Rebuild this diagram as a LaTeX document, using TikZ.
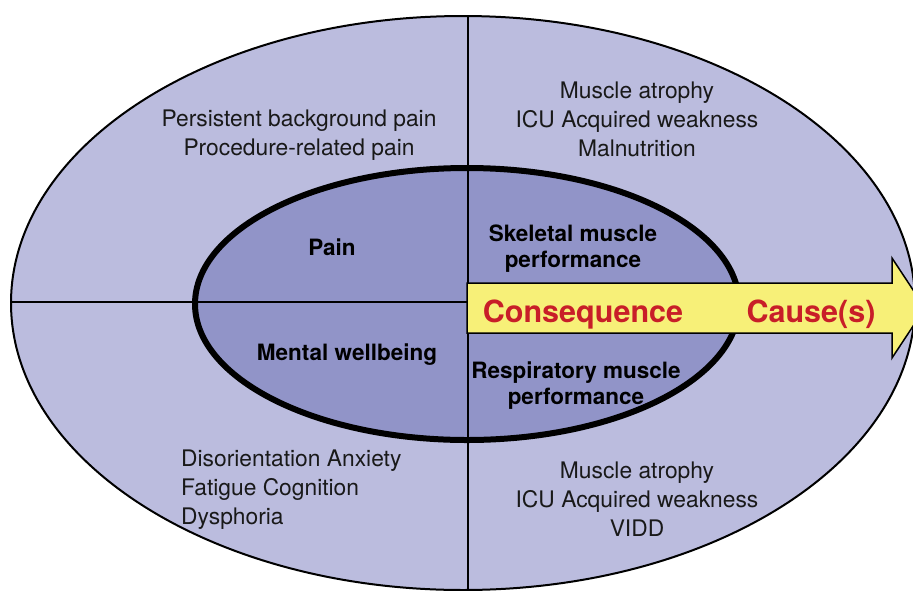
\documentclass[tikz,border=0pt]{standalone}
\usepackage{fontspec}
\setmainfont{TeX Gyre Heros}
\definecolor{outerfill}{RGB}{187,188,222}
\definecolor{innerfill}{RGB}{145,148,200}
\definecolor{arrowfill}{RGB}{247,240,120}
\definecolor{redtext}{RGB}{200,30,40}
\definecolor{darktext}{RGB}{25,25,25}
\tikzset{
  plain/.style={inner sep=0pt, align=center, text=darktext, font=\fontsize{22.8}{29}\selectfont},
  boldlabel/.style={inner sep=0pt, align=center, text=black, font=\fontsize{22.5}{26}\selectfont\bfseries},
  redlabel/.style={inner sep=0pt, text=redtext, font=\fontsize{30.5}{34}\selectfont\bfseries},
  divider/.style={draw=black, line width=2.2pt},
}
\begin{document}
\begin{tikzpicture}[x=1pt,y=-1pt]
\useasboundingbox (0,0) rectangle (913,590);
\begin{scope}
\clip (0,0) rectangle (913,590);
% outer ellipse
\filldraw[fill=outerfill, draw=black, line width=2pt] (463,303) ellipse [x radius=452, y radius=287];
% inner ellipse
\filldraw[fill=innerfill, draw=black, line width=6pt] (467,304) ellipse [x radius=272, y radius=136];
% dividers
\coordinate (vtop) at (468,16);
\coordinate (vbot) at (468,592);
\coordinate (hleft) at (11,302);
\coordinate (hright) at (468,302);
\draw[divider] (vtop) -- (vbot);
\draw[divider] (hleft) -- (hright);
% arrow
\draw[fill=arrowfill, draw=black, line width=1.5pt, line join=miter]
  (467,283) -- (892,283) -- (892,258) -- (925,308) -- (892,358) -- (892,333) -- (467,333) -- cycle;
\end{scope}
% texts
\node[plain] (pain-out) at (299,135) {Persistent background pain\\Procedure-related pain};
\node[plain] (skel-out) at (637,119) {Muscle atrophy\\ICU Acquired weakness\\Malnutrition};
\node[plain, align=left, anchor=west] (mental-out) at (181,490) {Disorientation Anxiety\\Fatigue Cognition\\Dysphoria};
\node[plain] (resp-out) at (637,499) {Muscle atrophy\\ICU Acquired weakness\\VIDD};
\node[boldlabel] (pain) at (332,247) {Pain};
\node[boldlabel] (skel) at (573,249) {Skeletal muscle\\performance};
\node[boldlabel] (mental) at (347,355) {Mental wellbeing};
\node[boldlabel] (resp) at (576,386) {Respiratory muscle\\performance};
\node[redlabel] (consequence) at (583,315) {Consequence};
\node[redlabel] (cause) at (811,314) {Cause(s)};
\end{tikzpicture}
\end{document}
